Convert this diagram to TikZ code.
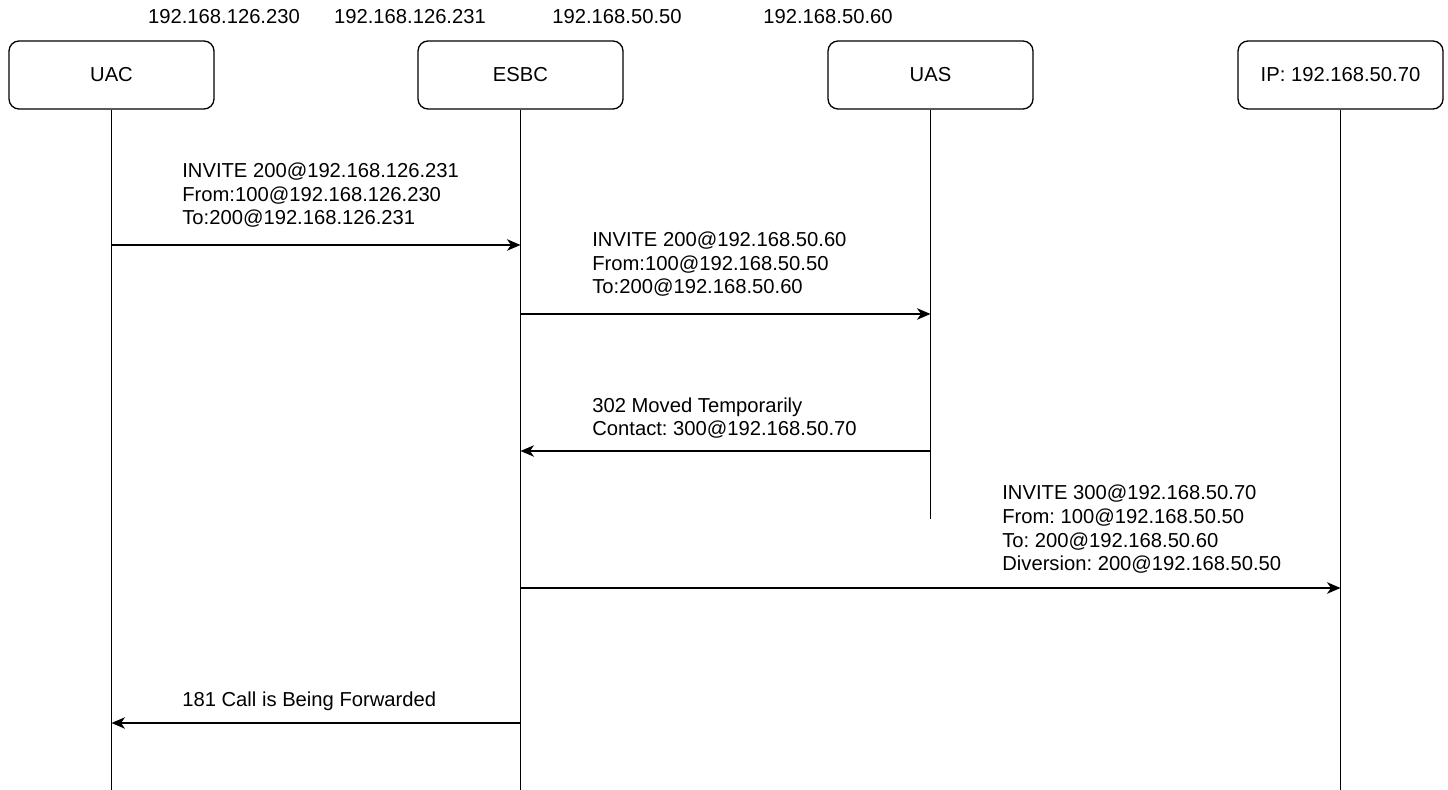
\documentclass[tikz,border=0pt]{standalone}
\usepackage{fontspec}
\setmainfont{Liberation Sans}
\frenchspacing
\usetikzlibrary{arrows.meta}
\tikzset{
  actor/.style={draw, rounded corners=0.2cm, minimum width=4.1cm, minimum height=1.36cm, line width=0.75pt, font=\fontsize{11.5}{13.65}\selectfont},
  life/.style={line width=0.75pt},
  msg/.style={-{Stealth[length=0.27cm,width=0.23cm,inset=0.08cm]}, line width=0.75pt},
  lbl/.style={anchor=base west, align=left, inner sep=0pt, font=\fontsize{11.5}{13.65}\selectfont},
  addr/.style={anchor=base, inner sep=0pt, font=\fontsize{11.5}{13.65}\selectfont},
}
\begin{document}
\begin{tikzpicture}[x=0.02cm,y=-0.02cm]
\useasboundingbox (0,0) rectangle (1448,790);
% addresses
\node[addr] (a1) at (224,24) {192.168.126.230};
\node[addr] (a2) at (410,24) {192.168.126.231};
\node[addr] (a3) at (617,24) {192.168.50.50};
\node[addr] (a4) at (828,24) {192.168.50.60};
% participants
\node[actor] (uac) at (111.5,75) {UAC};
\node[actor] (esbc) at (520.5,75) {ESBC};
\node[actor] (uas) at (930.5,75) {UAS};
\node[actor] (ip) at (1340.5,75) {IP: 192.168.50.70};
% lifelines
\coordinate (uacend) at (111.5,790);
\coordinate (esbcend) at (520.5,790);
\coordinate (uasend) at (930.5,519);
\coordinate (ipend) at (1340.5,790);
\draw[life] (uac) -- (uacend);
\draw[life] (esbc) -- (esbcend);
\draw[life] (uas) -- (uasend);
\draw[life] (ip) -- (ipend);
% messages (label anchored at its last line)
\draw[msg] (uac |- 0,245) -- (esbc |- 0,245);
\node[lbl] (m1) at (182,225) {INVITE 200@192.168.126.231\\From:100@192.168.126.230\\To:200@192.168.126.231};
\draw[msg] (esbc |- 0,314) -- (uas |- 0,314);
\node[lbl] (m2) at (592,294) {INVITE 200@192.168.50.60\\From:100@192.168.50.50\\To:200@192.168.50.60};
\draw[msg] (uas |- 0,451) -- (esbc |- 0,451);
\node[lbl] (m3) at (592,436) {302 Moved Temporarily\\Contact: 300@192.168.50.70};
\draw[msg] (esbc |- 0,588) -- (ip |- 0,588);
\node[lbl] (m4) at (1002,571) {INVITE 300@192.168.50.70\\From: 100@192.168.50.50\\To: 200@192.168.50.60\\Diversion: 200@192.168.50.50};
\draw[msg] (esbc |- 0,723) -- (uac |- 0,723);
\node[lbl] (m5) at (182,706) {181 Call is Being Forwarded};
\end{tikzpicture}
\end{document}
